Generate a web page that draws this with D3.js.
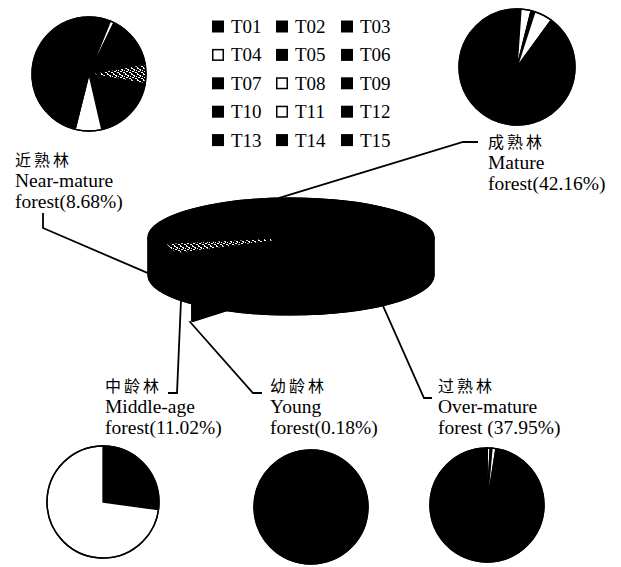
<!DOCTYPE html>
<html><head><meta charset="utf-8">
<script src="https://cdn.jsdelivr.net/npm/d3@7"></script>
<style>body{margin:0;background:#fff}svg{display:block}</style>
</head><body>
<script>
// ---------- DATA ----------
const types = ["T01","T02","T03","T04","T05","T06","T07","T08","T09","T10","T11","T12","T13","T14","T15"];
const typeFill = ["black","black","black","white","black","stipple","black","white","black","black","white","black","black","black","black"];

const ageCN   = ["成熟林","过熟林","幼龄林","中龄林","近熟林"];
const ageEN   = ["Mature","Over-mature","Young","Middle-age","Near-mature"];
const agePct  = [42.16, 37.95, 0.18, 11.02, 8.68];
const ageLine3 = ["forest(42.16%)","forest (37.95%)","forest(0.18%)","forest(11.02%)","forest(8.68%)"];

// composition of forest types (%) in each age class, T01..T15
const compMature = [0.6,0.3,0.2,2.8,0.6,0.3,0.2,5.0,30,15,0,15,15,10,5];
const compOver   = [0.1,0,0,0.8,0.3,0.1,0.1,1.1,35,20,0,15,12,10,5.5];
const compYoung  = [60,40,0,0,0,0,0,0,0,0,0,0,0,0,0];
const compMiddle = [12,10.2,5,72.8,0,0,0,0,0,0,0,0,0,0,0];
const compNear   = [3,2,1.1,1.1,15,5.6,18.6,7.5,20,10,0,6,5,3,2.1];
const comps = [compMature, compOver, compYoung, compMiddle, compNear];

// ---------- LAYOUT ----------
const W = 621, H = 567;
const deg = Math.PI/180;
const svg = d3.select("body").append("svg").attr("width", W).attr("height", H);

const defs = svg.append("defs");
const pat = defs.append("pattern").attr("id","stip").attr("patternUnits","userSpaceOnUse")
  .attr("width",6).attr("height",6);
pat.append("rect").attr("width",6).attr("height",6).attr("fill","black");
[[0,0,2,1],[3,1,1,2],[1,3,2,1],[4,4,2,1],[0,5,1,1],[5,2,1,1],[2,1,1,1]].forEach(r=>
  pat.append("rect").attr("x",r[0]).attr("y",r[1]).attr("width",r[2]).attr("height",r[3]).attr("fill","white"));
const fillOf = f => f === "stipple" ? "url(#stip)" : f;

// ---------- small pies ----------
const smallPos = [
  {cx:517, cy:67,  r:58},   // Mature
  {cx:487, cy:505, r:57},   // Over-mature
  {cx:311, cy:507, r:57},   // Young
  {cx:103, cy:502, r:56},   // Middle-age
  {cx:89,  cy:74,  r:57}    // Near-mature
];
const pieGen = d3.pie().sort(null).value(d => d.v);
const arcS = d3.arc().innerRadius(0);
comps.forEach((c, i) => {
  const p = smallPos[i];
  const data = c.map((v, k) => ({v, k}));
  const g = svg.append("g").attr("transform", `translate(${p.cx},${p.cy})`);
  g.selectAll("path").data(pieGen(data).filter(d => d.data.v > 0)).join("path")
    .attr("d", d => arcS.outerRadius(p.r)(d))
    .attr("fill", d => fillOf(typeFill[d.data.k]))
    .attr("stroke", "black").attr("stroke-width", 1.3).attr("stroke-linejoin","round");
  g.append("circle").attr("r", p.r).attr("fill","none").attr("stroke","black").attr("stroke-width",1.5);
});

// ---------- legend ----------
const legX = [212, 276, 341], legY0 = 33, legDy = 28.4;
const leg = svg.append("g");
types.forEach((t, i) => {
  const col = i % 3, row = Math.floor(i / 3);
  const x = legX[col], y = legY0 + row * legDy;
  const f = typeFill[i] === "white" ? "white" : "black";
  leg.append("rect").attr("x", x + 0.75).attr("y", y - 11.75).attr("width", 10.5).attr("height", 10.5)
    .attr("fill", f).attr("stroke", "black").attr("stroke-width", 1.5);
  leg.append("text").attr("x", x + 19).attr("y", y).text(t)
    .attr("font-family", "'Liberation Serif', serif").attr("font-size", 19).attr("fill","black");
});

// ---------- central 3D pie ----------
const C = {cx:291, cy:238, rx:143, ry:40, depth:37};
const pt = (a, r = 1, dy = 0) => [C.cx + C.rx * r * Math.sin(a), C.cy - C.ry * r * Math.cos(a) + dy];
const startA = -67 * deg;
const pie3 = d3.pie().sort(null).startAngle(startA).endAngle(startA + 2*Math.PI)(agePct);
const young = 2;
const explode = a => [5 * Math.sin(a), -22 * Math.cos(a)];

function topPath(a0, a1) {
  const p0 = pt(a0), p1 = pt(a1), large = (a1 - a0) > Math.PI ? 1 : 0;
  return `M${C.cx},${C.cy}L${p0}A${C.rx},${C.ry} 0 ${large} 1 ${p1}Z`;
}
function sidePath(a0, a1) {
  const lo = Math.max(a0, 90*deg), hi = Math.min(a1, 270*deg);
  if (lo >= hi) return null;
  const p0 = pt(lo), p1 = pt(hi), q1 = pt(hi,1,C.depth), q0 = pt(lo,1,C.depth);
  return `M${p0}A${C.rx},${C.ry} 0 0 1 ${p1}L${q1}A${C.rx},${C.ry} 0 0 0 ${q0}Z`;
}
function radialPath(a) {
  const p = pt(a), q = pt(a,1,C.depth);
  return `M${C.cx},${C.cy}L${p}L${q}L${C.cx},${C.cy + C.depth}Z`;
}
const center = svg.append("g");
const sty = sel => sel.attr("fill","black").attr("stroke","black").attr("stroke-width",1.2).attr("stroke-linejoin","round");
// exploded young slice first (behind the rest)
pie3.forEach((s, i) => {
  if (i !== young) return;
  const e = explode((s.startAngle + s.endAngle) / 2);
  const g = center.append("g").attr("transform", `translate(${e[0]},${e[1]})`);
  sty(g.append("path").attr("d", radialPath(s.startAngle)));
  sty(g.append("path").attr("d", radialPath(s.endAngle)));
  const sp = sidePath(s.startAngle, s.endAngle);
  if (sp) sty(g.append("path").attr("d", sp));
  sty(g.append("path").attr("d", topPath(s.startAngle, s.endAngle)));
});
// solid silhouette of the whole cylinder beneath the slices (avoids seams)
{
  const l = pt(270*deg), r = pt(90*deg), lb = pt(270*deg,1,C.depth), rb = pt(90*deg,1,C.depth);
  sty(center.append("path").attr("d",
    `M${l}A${C.rx},${C.ry} 0 0 1 ${r}L${rb}A${C.rx},${C.ry} 0 0 1 ${lb}Z`));
}
pie3.forEach((s, i) => {
  if (i === young) return;
  const g = center.append("g");
  const sp = sidePath(s.startAngle, s.endAngle);
  if (sp) sty(g.append("path").attr("d", sp));
  sty(g.append("path").attr("d", topPath(s.startAngle, s.endAngle)));
});
// stippled texture on the top face near the middle-age / near-mature boundary
{
  const b = pie3[3].endAngle, a0 = b - 0.29, a1 = b - 0.03;
  const p0 = pt(a0, 0.12), p1 = pt(a0, 0.88), p2 = pt(a1, 0.88), p3 = pt(a1, 0.12);
  center.append("path")
    .attr("d", `M${p0}L${p1}A${C.rx*0.88},${C.ry*0.88} 0 0 1 ${p2}L${p3}Z`)
    .attr("fill", "url(#stip)");
}

// ---------- labels & leader lines ----------
const labelPos = [[488,148],[438,392],[270,392],[105,392],[15,166]];
const lineDy = [0, 21, 42];
const yb = s => {
  const e = explode((s.startAngle + s.endAngle)/2);
  const p = pt((s.startAngle + s.endAngle)/2, 1, C.depth);
  return [p[0] + e[0] - 3, p[1] + e[1]];
};
const leaders = [
  [[478,142],[463,142], pt(-5*deg)],
  [[432,398],[424,398], pt(140*deg,1,C.depth)],
  [[262,393],[253,393], yb(pie3[2])],
  [[168,393],[177,393], pt(230.3*deg,1,C.depth)],
  [[43,213],[43,228], pt(270*deg,1,C.depth*0.95)]
];
const lineGen = d3.line();
leaders.forEach(l => svg.append("path").attr("d", lineGen(l)).attr("fill","none")
  .attr("stroke","black").attr("stroke-width",1.8).attr("stroke-linejoin","miter"));

ageEN.forEach((en, i) => {
  const [x, y] = labelPos[i];
  svg.append("text").attr("x", x).attr("y", y).text(ageCN[i])
    .attr("font-family","'Noto Sans CJK SC', sans-serif").attr("font-size",16)
    .attr("letter-spacing", 3).attr("fill","black");
  svg.append("text").attr("x", x).attr("y", y + lineDy[1]).text(en)
    .attr("font-family","'Liberation Serif', serif").attr("font-size",19.5).attr("fill","black");
  svg.append("text").attr("x", x).attr("y", y + lineDy[2]).text(ageLine3[i])
    .attr("font-family","'Liberation Serif', serif").attr("font-size",19.5).attr("fill","black");
});
</script>
</body></html>
